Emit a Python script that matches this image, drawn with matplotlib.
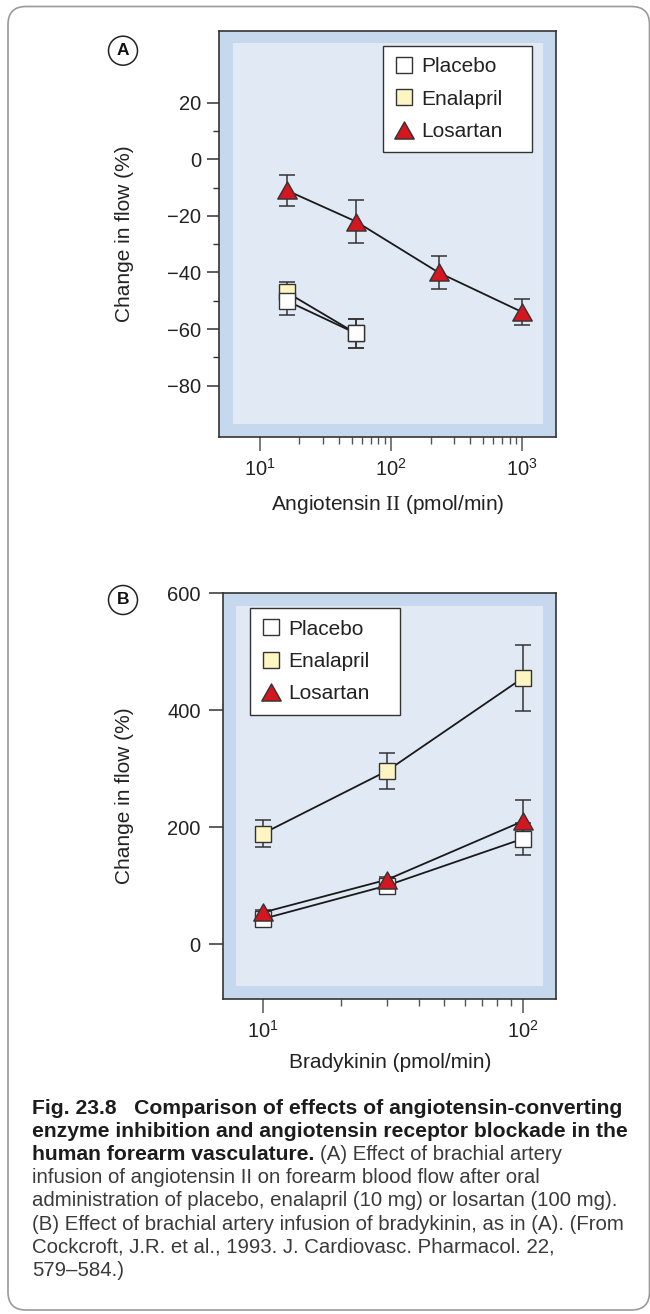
import matplotlib
matplotlib.use('Agg')
import matplotlib.pyplot as plt
from matplotlib.patches import Rectangle, FancyBboxPatch, Circle
from matplotlib.lines import Line2D
from matplotlib.path import Path
from matplotlib.transforms import IdentityTransform
from matplotlib.ticker import FixedLocator, NullFormatter

plt.rcParams['font.family'] = ['Liberation Sans', 'DejaVu Sans']
plt.rcParams['mathtext.fontset'] = 'custom'
plt.rcParams['mathtext.rm'] = 'Liberation Serif'
plt.rcParams['axes.unicode_minus'] = True

# ---------------- data ----------------
series_names = ['Placebo', 'Enalapril', 'Losartan']

a_dose_short = [16, 54]
a_dose_long = [16, 54, 230, 1000]
a_placebo = [-50, -61.5]
a_placebo_err = [5, 5]
a_enalapril = [-47, -61.5]
a_enalapril_err = [3.5, 5]
a_losartan = [-11, -22, -40, -54]
a_losartan_err = [5.5, 7.5, 6, 4.5]

b_dose = [10, 30, 100]
b_placebo = [43, 100, 180]
b_placebo_err = [5, 5, 27]
b_enalapril = [189, 296, 455]
b_enalapril_err = [23, 30, 57]
b_losartan = [54, 110, 210]
b_losartan_err = [5, 5, 37]

a_yticks = [-80, -60, -40, -20, 0, 20]
a_yminor = [-70, -50, -30, -10, 10]
a_xticks = [10, 100, 1000]
a_xminor = [m * d for d in (10, 100) for m in range(2, 10)]
b_yticks = [0, 200, 400, 600]
b_xticks = [10, 100]
b_xminor = [m * 10 for m in range(2, 10)]

caption_bold = ["Fig. 23.8   Comparison of effects of angiotensin-converting",
                "enzyme inhibition and angiotensin receptor blockade in the",
                "human forearm vasculature."]
caption_rest = ["(A) Effect of brachial artery",
                "infusion of angiotensin II on forearm blood flow after oral",
                "administration of placebo, enalapril (10 mg) or losartan (100 mg).",
                "(B) Effect of brachial artery infusion of bradykinin, as in (A). (From",
                "Cockcroft, J.R. et al., 1993. J. Cardiovasc. Pharmacol. 22,",
                "579\u2013584.)"]

# ---------------- style ----------------
W, H = 650, 1314
OUTER = '#c5d8ed'
INNER = '#e1e9f5'
RED = '#d3161f'
YEL = '#fdf6c2'
WHITE = '#ffffff'
EDGE = '#333333'
TXT = '#222222'

tri = Path([(0, 0.88), (-1, -0.88), (1, -0.88), (0, 0.88)],
           [Path.MOVETO, Path.LINETO, Path.LINETO, Path.CLOSEPOLY])

fig = plt.figure(figsize=(W / 100, H / 100), dpi=100)


def rect(l, t, r, b):
    return [l / W, 1 - b / H, (r - l) / W, (b - t) / H]


def fx(x):
    return x / W


def fy(y):
    return 1 - y / H


# outer rounded frame
frame = FancyBboxPatch((8, 4), 641.5, 1303.5, boxstyle='round,pad=0,rounding_size=18',
                       transform=IdentityTransform(), fc='none', ec='#9a9a9a', lw=1.2)
fig.add_artist(frame)


def draw(ax, x, y, err, marker, ms, fc, z_err, z_line, z_mark):
    ax.errorbar(x, y, yerr=err, fmt='none', ecolor=EDGE, elinewidth=1.1,
                capsize=5.5, capthick=1.1, zorder=z_err)
    ax.plot(x, y, color='#1a1a1a', lw=1.3, zorder=z_line)
    ax.plot(x, y, ls='none', marker=marker, ms=ms, mfc=fc, mec=EDGE, mew=1.0,
            zorder=z_mark)


def style_axes(ax, px_w, px_h, xmaj, xmin):
    ax.set_facecolor(OUTER)
    mx, my = 13.5 / px_w, 12.7 / px_h
    ax.add_patch(Rectangle((mx, my), 1 - 2 * mx, 1 - 2 * my, transform=ax.transAxes,
                           fc=INNER, ec='none', zorder=0.5))
    for s in ax.spines.values():
        s.set_color(EDGE)
        s.set_linewidth(1.2)
    ax.set_xscale('log')
    ax.xaxis.set_major_locator(FixedLocator(xmaj))
    ax.xaxis.set_minor_locator(FixedLocator(xmin))
    ax.xaxis.set_minor_formatter(NullFormatter())
    ax.tick_params(axis='x', which='major', length=10, width=1.1, color='#555555',
                   pad=5, labelsize=14.5, labelcolor=TXT)
    ax.tick_params(axis='x', which='minor', length=5, width=1.0, color='#555555')


def legend(ax, l, t, w):
    handles = [Line2D([], [], ls='none', marker='s', ms=12.2, mfc=WHITE, mec=EDGE, mew=1.0),
               Line2D([], [], ls='none', marker='s', ms=12.2, mfc=YEL, mec=EDGE, mew=1.0),
               Line2D([], [], ls='none', marker=tri, ms=14, mfc=RED, mec=EDGE, mew=1.0)]
    lg = ax.legend(handles, series_names, loc='upper left',
                   bbox_to_anchor=(fx(l), fy(t), w / W, 0.0001),
                   bbox_transform=fig.transFigure, mode='expand', borderaxespad=0,
                   fontsize=15, frameon=True, fancybox=False, framealpha=1,
                   edgecolor=EDGE, borderpad=0.55, labelspacing=0.64,
                   handlelength=0.91, handletextpad=0.36)
    lg.get_frame().set_linewidth(1.0)
    for t_ in lg.get_texts():
        t_.set_color(TXT)
    lg.set_zorder(10)


# ---------------- panel A ----------------
axA = fig.add_axes(rect(219.3, 30.7, 556.3, 436.7))
style_axes(axA, 337, 406, a_xticks, a_xminor)
axA.set_xlim(4.9, 1818)
axA.set_ylim(-98, 45.4)
axA.yaxis.set_major_locator(FixedLocator(a_yticks))
axA.yaxis.set_minor_locator(FixedLocator(a_yminor))
axA.tick_params(axis='y', which='major', length=8.3, width=1.1, color=EDGE, pad=4.8,
                labelsize=14.5, labelcolor=TXT)
axA.tick_params(axis='y', which='minor', length=4.3, width=1.0, color=EDGE)

draw(axA, a_dose_long, a_losartan, a_losartan_err, tri, 14, RED, 3, 3.5, 4)
draw(axA, a_dose_short, a_enalapril, a_enalapril_err, 's', 11.2, YEL, 3, 3.5, 4.2)
draw(axA, a_dose_short, a_placebo, a_placebo_err, 's', 11.2, WHITE, 3, 3.5, 4.4)
legend(axA, 383, 46, 149)

# ---------------- panel B ----------------
axB = fig.add_axes(rect(222.7, 593.3, 556.3, 998.7))
style_axes(axB, 333.6, 405.4, b_xticks, b_xminor)
axB.set_xlim(7.0, 134.8)
axB.set_ylim(-93.5, 600)
axB.yaxis.set_major_locator(FixedLocator(b_yticks))
axB.tick_params(axis='y', which='major', length=10, width=1.1, color=EDGE, pad=5.8,
                labelsize=14.5, labelcolor=TXT)

draw(axB, b_dose, b_enalapril, b_enalapril_err, 's', 11.5, YEL, 3, 3.5, 4)
draw(axB, b_dose, b_placebo, b_placebo_err, 's', 11.5, WHITE, 3, 3.5, 4.2)
draw(axB, b_dose, b_losartan, b_losartan_err, tri, 14, RED, 3, 3.5, 4.4)
legend(axB, 250.4, 608.3, 149.2)

# ---------------- labels ----------------
fig.text(fx(124), fy(233.7), 'Change in flow (%)', rotation=90, ha='center', va='center',
         fontsize=15, color=TXT)
fig.text(fx(124), fy(796), 'Change in flow (%)', rotation=90, ha='center', va='center',
         fontsize=15, color=TXT)
fig.text(fx(388), fy(504), r'Angiotensin $\mathrm{II}$ (pmol/min)', ha='center', va='center',
         fontsize=15, color=TXT)
fig.text(fx(390), fy(1062), 'Bradykinin (pmol/min)', ha='center', va='center',
         fontsize=15, color=TXT)

for letter, (cx, cy) in zip(['A', 'B'], [(123, 50.7), (123, 600)]):
    fig.add_artist(Circle((cx, H - cy), 14.5, transform=IdentityTransform(),
                          fc='white', ec='#222222', lw=1.1))
    fig.text(fx(cx), fy(cy), letter, ha='center', va='center', fontsize=12.5,
             fontweight='bold', color='#111111')

# ---------------- caption ----------------
cap_fs = 14.7
cap_bold_fs = 15.2
x0 = 31.7
base0 = 1113.5
step = 23.2
lines = []
for i, s in enumerate(caption_bold):
    t = fig.text(fx(x0), fy(base0 + i * step), s, ha='left', va='baseline',
                 fontsize=cap_bold_fs, fontweight='bold', color='#1c1c1c')
    lines.append(t)

renderer = fig.canvas.get_renderer()
bb = lines[-1].get_window_extent(renderer)
space_px = 0.278 * cap_fs * 100 / 72
fig.text((bb.x1 + space_px) / W, fy(base0 + 2 * step), caption_rest[0], ha='left',
         va='baseline', fontsize=cap_fs, color='#3a3a3a')
for j, s in enumerate(caption_rest[1:]):
    fig.text(fx(x0), fy(base0 + (3 + j) * step), s, ha='left', va='baseline',
             fontsize=cap_fs, color='#3a3a3a')

fig.savefig('out.png', dpi=100)
